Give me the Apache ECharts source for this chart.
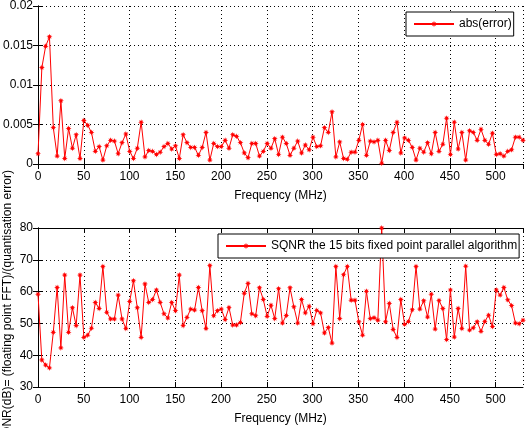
<!DOCTYPE html>
<html>
<head>
<meta charset="utf-8">
<title>abs(error) and SQNR vs frequency</title>
<script src="https://cdn.jsdelivr.net/npm/echarts@6.0.0/dist/echarts.min.js"></script>
<style>
  html, body { margin: 0; padding: 0; background: #fff; }
  #chart { width: 526px; height: 428px; }
</style>
</head>
<body>
<div id="chart"></div>
<script>
// FFT bin frequencies (MHz), 128 bins from 0 to 530
const freqMHz = [
  0, 4.2, 8.3, 12.5, 16.7, 20.9, 25.0, 29.2, 33.4, 37.6,
  41.7, 45.9, 50.1, 54.3, 58.4, 62.6, 66.8, 70.9, 75.1, 79.3,
  83.5, 87.6, 91.8, 96.0, 100.2, 104.3, 108.5, 112.7, 116.9, 121.0,
  125.2, 129.4, 133.5, 137.7, 141.9, 146.1, 150.2, 154.4, 158.6, 162.8,
  166.9, 171.1, 175.3, 179.4, 183.6, 187.8, 192.0, 196.1, 200.3, 204.5,
  208.7, 212.8, 217.0, 221.2, 225.4, 229.5, 233.7, 237.9, 242.0, 246.2,
  250.4, 254.6, 258.7, 262.9, 267.1, 271.3, 275.4, 279.6, 283.8, 288.0,
  292.1, 296.3, 300.5, 304.6, 308.8, 313.0, 317.2, 321.3, 325.5, 329.7,
  333.9, 338.0, 342.2, 346.4, 350.6, 354.7, 358.9, 363.1, 367.2, 371.4,
  375.6, 379.8, 383.9, 388.1, 392.3, 396.5, 400.6, 404.8, 409.0, 413.1,
  417.3, 421.5, 425.7, 429.8, 434.0, 438.2, 442.4, 446.5, 450.7, 454.9,
  459.1, 463.2, 467.4, 471.6, 475.7, 479.9, 484.1, 488.3, 492.4, 496.6,
  500.8, 505.0, 509.1, 513.3, 517.5, 521.7, 525.8, 530.0
];

// top plot: abs(error) between floating point and fixed point FFT
const absError = [
  0.0013, 0.0122, 0.0149, 0.0161, 0.0046, 0.0010, 0.0080, 0.0007, 0.0045, 0.0020,
  0.0037, 0.0007, 0.0055, 0.0049, 0.0040, 0.0016, 0.0022, 0.0005, 0.0023, 0.0030,
  0.0029, 0.0013, 0.0027, 0.0038, 0.0016, 0.0007, 0.0020, 0.0053, 0.0009, 0.0017,
  0.0016, 0.0012, 0.0015, 0.0022, 0.0026, 0.0019, 0.0023, 0.0007, 0.0037, 0.0027,
  0.0021, 0.0021, 0.0011, 0.0021, 0.0040, 0.0005, 0.0026, 0.0022, 0.0022, 0.0030,
  0.0020, 0.0037, 0.0035, 0.0027, 0.0014, 0.0008, 0.0026, 0.0026, 0.0010, 0.0016,
  0.0026, 0.0020, 0.0032, 0.0012, 0.0034, 0.0026, 0.0011, 0.0020, 0.0029, 0.0014,
  0.0024, 0.0018, 0.0034, 0.0022, 0.0023, 0.0046, 0.0040, 0.0066, 0.0009, 0.0028,
  0.0007, 0.0006, 0.0015, 0.0015, 0.0030, 0.0050, 0.0011, 0.0029, 0.0028, 0.0030,
  0.0001, 0.0030, 0.0017, 0.0040, 0.0053, 0.0014, 0.0033, 0.0030, 0.0021, 0.0005,
  0.0020, 0.0015, 0.0027, 0.0013, 0.0040, 0.0016, 0.0025, 0.0058, 0.0012, 0.0053,
  0.0019, 0.0040, 0.0005, 0.0042, 0.0040, 0.0030, 0.0044, 0.0030, 0.0025, 0.0039,
  0.0012, 0.0013, 0.0010, 0.0016, 0.0018, 0.0034, 0.0034, 0.0030
];

// bottom plot: SQNR in dB
const sqnrDb = [
  59.2, 38.5, 36.9, 36.0, 47.2, 61.3, 42.3, 65.2, 47.2, 54.9,
  49.3, 65.2, 45.6, 46.3, 48.5, 56.6, 54.7, 67.9, 53.5, 51.4,
  51.4, 58.9, 51.4, 48.4, 56.9, 63.4, 54.9, 45.6, 62.4, 56.6,
  57.5, 60.5, 56.6, 53.0, 51.7, 56.6, 54.0, 65.2, 49.3, 51.9,
  54.5, 54.2, 61.3, 54.0, 48.4, 68.2, 52.4, 54.0, 54.5, 51.2,
  55.0, 49.5, 49.5, 50.3, 59.5, 62.6, 53.0, 52.4, 61.2, 57.5,
  52.2, 55.7, 51.5, 60.9, 50.1, 52.5, 61.2, 55.2, 50.1, 57.5,
  53.3, 55.4, 49.9, 54.1, 53.3, 47.0, 48.7, 43.8, 67.9, 51.5,
  65.3, 67.9, 57.3, 57.3, 50.5, 46.3, 60.1, 51.5, 51.8, 51.0,
  80.0, 50.5, 56.3, 48.1, 45.6, 57.5, 49.7, 50.6, 54.3, 67.9,
  54.5, 57.1, 52.0, 59.2, 48.2, 57.2, 54.7, 44.9, 60.5, 45.7,
  54.7, 48.4, 68.0, 47.9, 48.6, 50.5, 47.5, 50.6, 52.6, 49.0,
  60.5, 58.9, 61.3, 57.4, 55.6, 50.1, 49.9, 51.0
];

// axis ticks
const xTickStep = 50;
const xMax = 530;
const errTicks = [0, 0.005, 0.01, 0.015, 0.02];
const sqnrTicks = [30, 40, 50, 60, 70, 80];

const errName = "abs(error)";
const sqnrName = "SQNR the 15 bits fixed point parallel algorithm";
const sqnrYLabel = "SQNR(dB)= (floating point FFT)/(quantisation error)";

const font = "'Liberation Sans', Arial, Helvetica, sans-serif";
const black = "#000";
const red = "#ff0000";
// asterisk-like marker
const starMarker = "path://M0,-10 L2,-4 L7,-7 L4,-2 L10,0 L4,2 L7,7 L2,4 L0,10 L-2,4 L-7,7 L-4,2 L-10,0 L-4,-2 L-7,-7 L-2,-4 Z";

const chart = echarts.init(document.getElementById("chart"));

const axisLine = { lineStyle: { color: black, width: 1 } };
const axisTick = { inside: true, length: 5, lineStyle: { color: black, width: 1 } };
const dotted = { show: true, lineStyle: { color: black, type: [1, 3], width: 1 } };

function makeXAxes(gridIndex) {
  return [
    {
      type: "value", gridIndex, position: "bottom",
      min: 0, max: xMax, interval: xTickStep,
      name: "Frequency (MHz)", nameLocation: "middle", nameGap: 26,
      nameTextStyle: { color: black, fontFamily: font, fontSize: 12 },
      axisLine, axisTick,
      axisLabel: { color: black, fontFamily: font, fontSize: 12, margin: 7, showMaxLabel: false },
      splitLine: dotted
    },
    {
      type: "value", gridIndex, position: "top",
      min: 0, max: xMax, interval: xTickStep,
      axisLine, axisTick,
      axisLabel: { show: false },
      splitLine: { show: false }
    }
  ];
}

function makeYAxes(gridIndex, ticks) {
  const range = {
    min: ticks[0],
    max: ticks[ticks.length - 1],
    interval: ticks[1] - ticks[0]
  };
  return [
    Object.assign({
      type: "value", gridIndex, position: "left",
      axisLine, axisTick,
      axisLabel: { color: black, fontFamily: font, fontSize: 12, margin: 5 },
      splitLine: dotted
    }, range),
    Object.assign({
      type: "value", gridIndex, position: "right",
      axisLine, axisTick,
      axisLabel: { show: false },
      splitLine: { show: false }
    }, range)
  ];
}

function makeLegend(name, left, top) {
  return {
    data: [name],
    left, top,
    orient: "horizontal",
    backgroundColor: "#fff",
    borderColor: black,
    borderWidth: 1,
    borderRadius: 0,
    padding: [6, 2, 6, 7],
    itemWidth: 40,
    itemHeight: 8,
    textStyle: { color: black, fontFamily: font, fontSize: 12 }
  };
}

function makeSeries(name, values, axisIndex) {
  return {
    type: "line",
    name,
    xAxisIndex: axisIndex,
    yAxisIndex: axisIndex,
    data: freqMHz.map((f, i) => [f, values[i]]),
    symbol: starMarker,
    symbolSize: 6,
    showAllSymbol: true,
    itemStyle: { color: red },
    lineStyle: { color: red, width: 1 },
    emphasis: { disabled: true }
  };
}

const option = {
  animation: false,
  backgroundColor: "#fff",
  grid: [
    { left: 38, top: 5, width: 485, height: 159 },
    { left: 38, top: 228, width: 485, height: 159 }
  ],
  xAxis: [...makeXAxes(0), ...makeXAxes(1)],
  yAxis: [...makeYAxes(0, errTicks), ...makeYAxes(1, sqnrTicks)],
  legend: [
    makeLegend(errName, 406, 12),
    makeLegend(sqnrName, 218, 234)
  ],
  graphic: [
    {
      type: "text",
      x: 8,
      y: 307,
      rotation: Math.PI / 2,
      style: {
        text: sqnrYLabel,
        fill: black,
        font: "12px 'Liberation Sans', Arial, sans-serif",
        align: "center",
        verticalAlign: "middle",
        textAlign: "center",
        textVerticalAlign: "middle"
      }
    }
  ],
  series: [
    makeSeries(errName, absError, 0),
    makeSeries(sqnrName, sqnrDb, 2)
  ]
};

chart.setOption(option);
</script>
</body>
</html>
